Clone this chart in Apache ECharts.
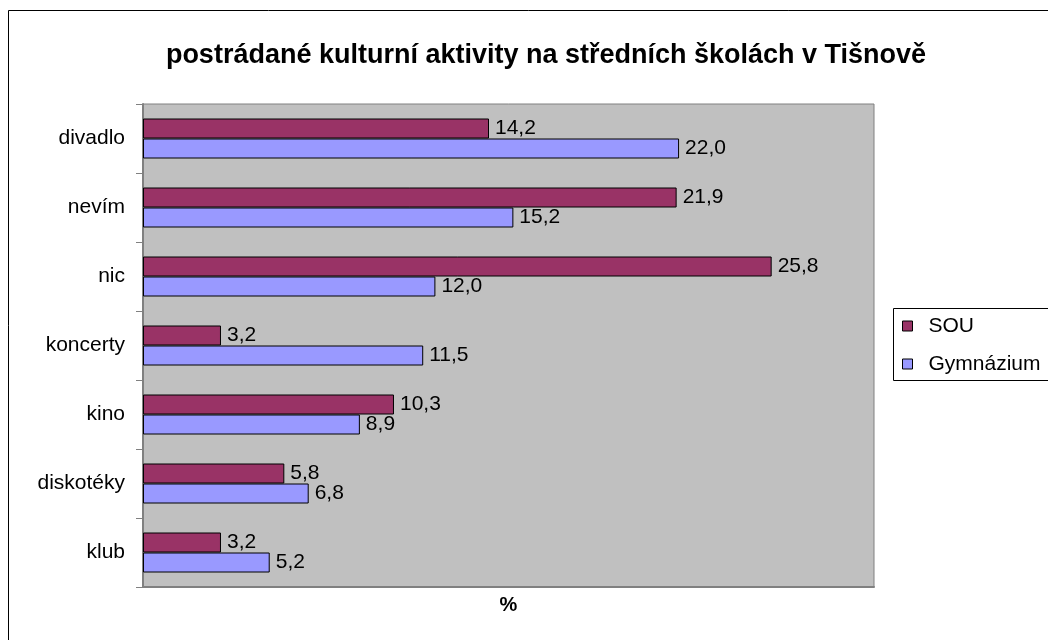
<!DOCTYPE html>
<html>
<head>
<meta charset="utf-8">
<script src="https://cdn.jsdelivr.net/npm/echarts@6/dist/echarts.min.js"></script>
<style>
  html, body { margin: 0; padding: 0; background: #fff; }
  #chart { width: 1048px; height: 640px; }
</style>
</head>
<body>
<div id="chart"></div>
<script>
var categories = ['divadlo', 'nevím', 'nic', 'koncerty', 'kino', 'diskotéky', 'klub'];
var souValues = [14.2, 21.9, 25.8, 3.2, 10.3, 5.8, 3.2];
var gymValues = [22.0, 15.2, 12.0, 11.5, 8.9, 6.8, 5.2];
var seriesNames = ['SOU', 'Gymnázium'];

var chart = echarts.init(document.getElementById('chart'), null, { renderer: 'canvas' });
var font = 'Arial, "Liberation Sans", sans-serif';

function fmt(p) {
  return p.value.toFixed(1).replace('.', ',');
}

chart.setOption({
  animation: false,
  backgroundColor: '#ffffff',
  textStyle: { fontFamily: font },
  title: {
    text: 'postrádané kulturní aktivity na středních školách v Tišnově',
    left: 541,
    textAlign: 'center',
    top: 37,
    textStyle: { fontFamily: font, fontSize: 27, fontWeight: 'bold', color: '#000' }
  },
  // okraj celeho grafu + ramecek legendy
  graphic: [
    { type: 'rect', shape: { x: 8.5, y: 10.5, width: 1100, height: 700 },
      style: { fill: 'none', stroke: '#000', lineWidth: 1 }, silent: true, z: -10 },
    { type: 'rect', shape: { x: 893.5, y: 308.5, width: 200, height: 72 },
      style: { fill: '#fff', stroke: '#000', lineWidth: 1 }, silent: true, z: 0 }
  ],
  legend: {
    data: seriesNames,
    orient: 'vertical',
    left: 902,
    top: 315,
    icon: 'rect',
    itemWidth: 10,
    itemHeight: 10,
    itemGap: 16,
    padding: 0,
    itemStyle: { borderColor: '#000', borderWidth: 1 },
    textStyle: { fontFamily: font, fontSize: 21, color: '#000', lineHeight: 22, padding: [0, 0, 0, 11] },
    z: 5
  },
  grid: {
    left: 143,
    right: 174,
    top: 104,
    bottom: 53,
    show: true,
    backgroundColor: '#c0c0c0',
    borderColor: '#808080',
    borderWidth: 1
  },
  xAxis: {
    type: 'value',
    min: 0,
    max: 30,
    name: '%',
    nameLocation: 'middle',
    nameGap: 8,
    nameTextStyle: { fontFamily: font, fontSize: 20, fontWeight: 'bold', color: '#000' },
    axisLabel: { show: false },
    axisTick: { show: false },
    splitLine: { show: false },
    axisLine: { show: true, lineStyle: { color: '#808080', width: 2 } }
  },
  yAxis: {
    type: 'category',
    data: categories,
    inverse: true,
    axisLine: { show: true, lineStyle: { color: '#808080', width: 2 } },
    axisTick: { show: true, length: 7, lineStyle: { color: '#808080', width: 1 } },
    axisLabel: { fontFamily: font, fontSize: 21, color: '#000', margin: 18 },
    splitLine: { show: false }
  },
  series: [
    {
      name: seriesNames[0],
      type: 'bar',
      data: souValues,
      barWidth: 20,
      barGap: '0%',
      itemStyle: { color: '#993366', borderColor: '#000', borderWidth: 1 },
      label: { show: true, position: 'right', distance: 6, formatter: fmt,
        fontFamily: font, fontSize: 21, color: '#000' }
    },
    {
      name: seriesNames[1],
      type: 'bar',
      data: gymValues,
      barWidth: 20,
      barGap: '0%',
      itemStyle: { color: '#9999ff', borderColor: '#000', borderWidth: 1 },
      label: { show: true, position: 'right', distance: 6, formatter: fmt,
        fontFamily: font, fontSize: 21, color: '#000' }
    }
  ]
});
</script>
</body>
</html>
